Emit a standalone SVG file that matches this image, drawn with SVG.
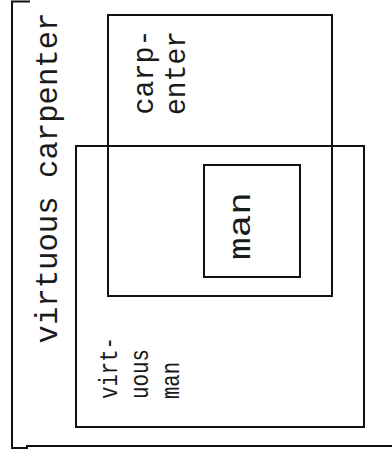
<svg xmlns="http://www.w3.org/2000/svg" width="392" height="458" viewBox="0 0 392 458">
<style>
.b{fill:none;stroke:#111;stroke-width:2;}
.t{font-family:"Liberation Mono","Courier New",monospace;fill:#1a1a1a;}
</style>
<rect width="392" height="458" fill="#fff"/>
<g id="connectors"/>
<g id="virtuous-carpenter">
<path class="b" d="M30,1.5 H12 V448 H27 V446 H392"/>
<text class="t" x="57" y="178" font-size="31" text-anchor="middle" textLength="331" lengthAdjust="spacingAndGlyphs" transform="rotate(-90 57 178)">virtuous carpenter</text>
</g>
<g id="carpenter">
<rect class="b" x="108" y="15" width="224" height="281"/>
<text class="t" x="153" y="72" font-size="30" text-anchor="middle" textLength="85" lengthAdjust="spacingAndGlyphs" transform="rotate(-90 153 72)">carp-</text>
<text class="t" x="185" y="73" font-size="30" text-anchor="middle" textLength="84" lengthAdjust="spacingAndGlyphs" transform="rotate(-90 185 73)">enter</text>
</g>
<g id="virtuous-man">
<rect class="b" x="76" y="146" width="288" height="281"/>
<text class="t" x="117" y="399" font-size="26" textLength="62" lengthAdjust="spacingAndGlyphs" transform="rotate(-90 117 399)">virt-</text>
<text class="t" x="148" y="399" font-size="26" textLength="50" lengthAdjust="spacingAndGlyphs" transform="rotate(-90 148 399)">uous</text>
<text class="t" x="179" y="399" font-size="26" textLength="37" lengthAdjust="spacingAndGlyphs" transform="rotate(-90 179 399)">man</text>
</g>
<g id="man">
<rect class="b" x="204" y="165" width="96" height="112"/>
<text class="t" x="250" y="226" font-size="32" text-anchor="middle" textLength="68" lengthAdjust="spacingAndGlyphs" transform="rotate(-90 250 226)">man</text>
</g>
</svg>
